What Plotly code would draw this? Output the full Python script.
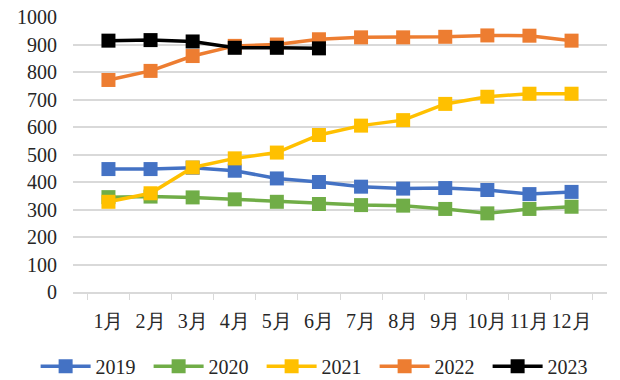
import plotly.graph_objects as go

months = ["1月", "2月", "3月", "4月", "5月", "6月", "7月", "8月", "9月", "10月", "11月", "12月"]
y2019 = [447, 447, 452, 441, 413, 400, 383, 376, 378, 371, 356, 364]
y2020 = [345, 347, 344, 337, 328, 320, 316, 314, 302, 286, 302, 310]
y2021 = [328, 359, 453, 486, 507, 571, 605, 625, 684, 710, 721, 721]
y2022 = [771, 804, 858, 895, 900, 919, 926, 926, 928, 933, 932, 914]
y2023 = [914, 916, 911, 888, 888, 886]

series = [
    ("2019", y2019, "#4472C4"),
    ("2020", y2020, "#70AD47"),
    ("2021", y2021, "#FFC000"),
    ("2022", y2022, "#ED7D31"),
    ("2023", y2023, "#000000"),
]

fig = go.Figure()
for name, vals, color in series:
    fig.add_trace(go.Scatter(
        x=months[:len(vals)], y=vals, name=name, mode="lines+markers",
        line=dict(color=color, width=3.5),
        marker=dict(symbol="square", size=14, color=color),
    ))

font = dict(family="'Liberation Serif', 'Times New Roman', 'DejaVu Serif', serif", size=20, color="#262626")
fig.update_layout(
    width=620, height=380,
    margin=dict(l=73, r=13, t=17, b=88, autoexpand=False),
    paper_bgcolor="white", plot_bgcolor="white",
    font=font,
    showlegend=True,
    legend=dict(orientation="h", x=-0.07, xanchor="left", y=-0.27, yanchor="middle",
                font=font, entrywidth=48, itemwidth=50),
    xaxis=dict(type="category", categoryorder="array", categoryarray=months,
               showline=True, linecolor="#d9d9d9", linewidth=1.5,
               ticks="outside", tickson="boundaries", ticklen=6, tickcolor="#d9d9d9",
               showgrid=False, tickfont=font, tickangle=0, ticklabelstandoff=10),
    yaxis=dict(range=[0, 1000], dtick=100, showgrid=True, gridcolor="#d9d9d9", gridwidth=1.5,
               zeroline=False, showline=False, tickfont=font, ticks="", ticklabelstandoff=15),
)
fig.write_html("out.html")
